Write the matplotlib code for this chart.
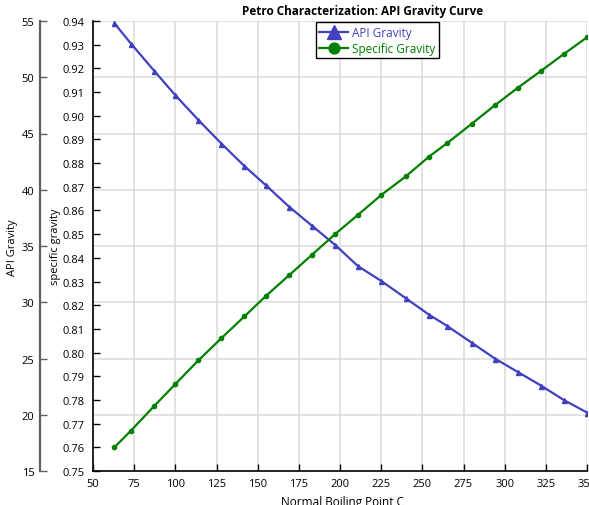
import matplotlib.pyplot as plt

plt.rcParams['font.family'] = ['Open Sans', 'DejaVu Sans']
plt.rcParams['font.size'] = 8

# normal boiling point, deg C
nbp = [63, 73, 87, 100, 114, 128, 142, 155, 169, 183, 197,
       211, 225, 240, 254, 265, 280, 294, 308, 322, 336, 350]
api = [54.8, 53.0, 50.6, 48.4, 46.2, 44.1, 42.1, 40.4, 38.5, 36.8, 35.1,
       33.2, 31.9, 30.35, 28.9, 27.9, 26.4, 25.0, 23.8, 22.6, 21.3, 20.2]
sg = [0.760, 0.767, 0.7773, 0.7867, 0.7967, 0.8061, 0.8153, 0.8239, 0.8326, 0.8413, 0.850,
      0.8582, 0.8665, 0.8744, 0.8827, 0.8884, 0.8966, 0.9044, 0.9118, 0.9189, 0.9261, 0.9331]

x_ticks = list(range(50, 351, 25))
api_ticks = list(range(15, 56, 5))
sg_ticks = [round(0.75 + 0.01 * i, 2) for i in range(20)]

blue = '#4040c0'
green = '#008000'

W, H = 589, 506
fig = plt.figure(figsize=(W / 100, H / 100), dpi=100)
left, right, top, bottom = 93, 587, 22, 472
ax = fig.add_axes([left / W, 1 - bottom / H, (right - left) / W, (bottom - top) / H])
ax2 = ax.twinx()

# API axis (outer, with the grid)
ax.plot(nbp, api, '-^', color=blue, lw=1.6, ms=3.6, label='API Gravity')
ax.set_xlim(50, 350)
ax.set_ylim(15, 55)
ax.set_xticks(x_ticks)
ax.set_yticks(api_ticks)
ax.grid(True, color='#dadada', lw=1.1)
ax.set_axisbelow(True)
ax.spines['left'].set_position(('axes', -(left - 40) / (right - left)))
ax.spines['left'].set_color('#606060')
ax.spines['left'].set_linewidth(1.6)
ax.spines['top'].set_visible(False)
ax.spines['right'].set_visible(False)
ax.spines['bottom'].set_linewidth(1.2)
ax.tick_params(axis='y', direction='in', length=5, width=1, color='#606060', pad=4)
ax.tick_params(axis='x', direction='in', length=5, width=1, pad=5)

# specific gravity axis (inner)
ax2.plot(nbp, sg, '-o', color=green, lw=1.6, ms=3.0, label='Specific Gravity')
ax2.set_ylim(0.75, 0.94)
ax2.set_yticks(sg_ticks)
ax2.set_yticklabels([f'{v:.2f}' for v in sg_ticks])
ax2.yaxis.tick_left()
ax2.spines['left'].set_visible(True)
ax2.spines['left'].set_linewidth(1.2)
for s in ['top', 'right', 'bottom']:
    ax2.spines[s].set_visible(False)
ax2.tick_params(axis='y', direction='in', length=5, width=1, pad=6)

h1, l1 = ax.get_legend_handles_labels()
h2, l2 = ax2.get_legend_handles_labels()
leg = ax2.legend(h1 + h2, l1 + l2, loc='upper left', bbox_to_anchor=(0.451, 0.997),
                 borderaxespad=0, fancybox=False, edgecolor='black', framealpha=1,
                 markerscale=2.6, handlelength=2.4, fontsize=8.5,
                 borderpad=0.3, labelspacing=0.25, handletextpad=0.4)
leg.get_frame().set_linewidth(1.0)
for txt, c in zip(leg.get_texts(), [blue, green]):
    txt.set_color(c)

fig.text(363 / W, 1 - 12 / H, 'Petro Characterization: API Gravity Curve',
         ha='center', va='center', fontsize=8.5, fontweight='bold')
fig.text(13 / W, 1 - 248 / H, 'API Gravity', rotation=90, ha='center', va='center', fontsize=8)
fig.text(55 / W, 1 - 247 / H, 'specific gravity', rotation=90, ha='center', va='center', fontsize=8)
fig.text(342 / W, 1 - 503 / H, 'Normal Boiling Point C', ha='center', va='center', fontsize=8.5)

fig.savefig('out.png', dpi=100)
